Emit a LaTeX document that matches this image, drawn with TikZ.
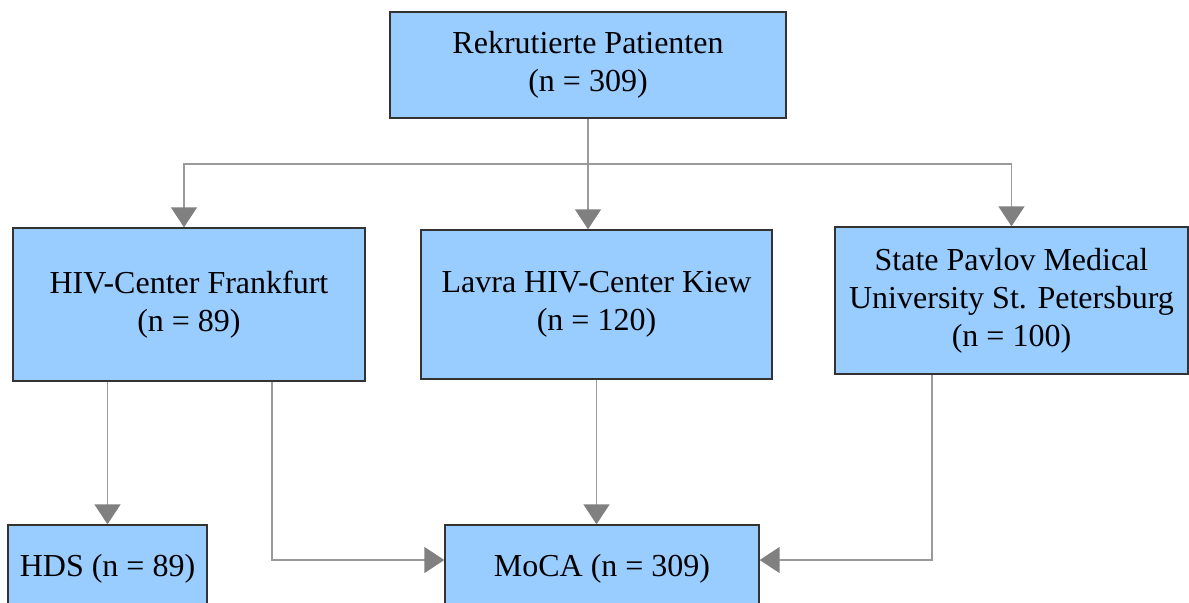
\documentclass[tikz,border=0pt]{standalone}
\usepackage{fontspec}
\setmainfont{Liberation Serif}
\usetikzlibrary{arrows.meta}

\definecolor{boxblue}{HTML}{99CCFF}
\definecolor{boxline}{HTML}{333333}
\definecolor{linkgray}{HTML}{9A9A9A}
\definecolor{tipgray}{HTML}{808080}

\tikzset{
  site/.style={draw=boxline, fill=boxblue, line width=0.7pt, align=center,
    inner sep=0pt, font=\fontsize{16}{19}\selectfont},
  link/.style={draw=linkgray, line width=0.75pt,
    -{Triangle[length=10pt, width=13pt, color=tipgray, fill=tipgray]}}
}

\begin{document}
\begin{tikzpicture}[x=0.5pt, y=-0.5pt]
\clip (0,0) rectangle (1189,602);
\useasboundingbox (0,0) rectangle (1189,602);

% recruitment
\node[site, minimum width=198pt, minimum height=53pt] (rekrut) at (588,65)
  {Rekrutierte Patienten\\(n = 309)};

% centers
\node[site, minimum width=176pt, minimum height=76.5pt] (ffm) at (189,304.5)
  {HIV-Center Frankfurt\\(n = 89)};
\node[site, minimum width=175.5pt, minimum height=74.5pt] (kiew) at (596.5,304.5)
  {Lavra HIV-Center Kiew\\(n = 120)};
\node[site, minimum width=176.5pt, minimum height=73.5pt] (spb) at (1011.5,300.5)
  {State Pavlov Medical\\University St. Petersburg\\(n = 100)};

% tests
\node[site, minimum width=99.5pt, minimum height=44pt] (hds) at (107.5,569)
  {HDS (n = 89)};
\node[site, minimum width=157pt, minimum height=44pt] (moca) at (602,569)
  {MoCA (n = 309)};

\coordinate (split) at (588,164);
\draw[draw=linkgray, line width=0.75pt] (rekrut.south) -- (split);
\draw[link] (split) -| ([xshift=-2.5pt]ffm.north);
\draw[link] (split) -- (split |- kiew.north);
\draw[link] (split) -| (spb.north);

\draw[link] (hds.north |- ffm.south) -- (hds.north);
\draw[link] ([xshift=41.5pt]ffm.south) |- ([yshift=4.5pt]moca.west);
\draw[link] (kiew.south) -- (kiew.south |- moca.north);
\draw[link] ([xshift=-39.75pt]spb.south) |- ([yshift=4.5pt]moca.east);
\end{tikzpicture}
\end{document}
